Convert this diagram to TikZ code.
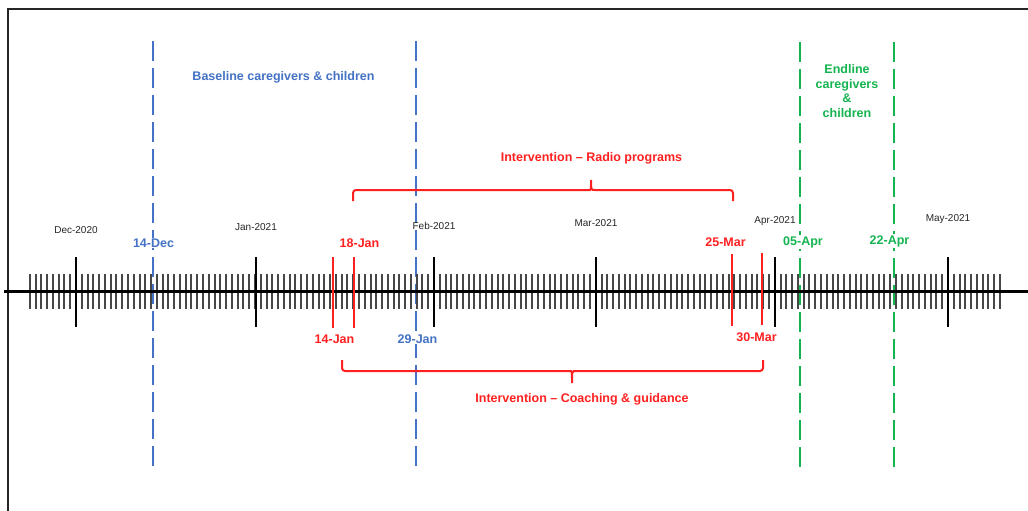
\documentclass[tikz,border=0pt]{standalone}
\usepackage{fontspec}
\setmainfont{Liberation Sans}
\definecolor{cblue}{RGB}{68,114,196}
\definecolor{cred}{RGB}{255,32,32}
\definecolor{cgreen}{RGB}{20,180,80}
\tikzset{
  daytick/.style={line width=1.8pt, black!72},
  monthtick/.style={line width=2pt, black},
  monthlbl/.style={font=\fontsize{10}{12}\selectfont, text=black!85, inner sep=1pt},
  datelbl/.style={font=\fontsize{12.5}{14.7}\selectfont\bfseries, fill=white, inner sep=1pt},
  phaselbl/.style={font=\fontsize{12.5}{14.7}\selectfont\bfseries, inner sep=1pt, align=center},
  redline/.style={line width=2pt, cred},
  bluedash/.style={line width=2pt, cblue, dash pattern=on 20pt off 7pt},
  greendash/.style={line width=2pt, cgreen, dash pattern=on 20pt off 7pt},
  bracestyle/.style={line width=2pt, cred, rounded corners=3pt}
}
\begin{document}
\begin{tikzpicture}[x=1pt,y=-1pt]
\useasboundingbox (0,0) rectangle (1028,511);
\fill[white] (0,0) rectangle (1028,511);
% frame
\coordinate (fbl) at (8,511);
\coordinate (ftl) at (8,9);
\coordinate (ftr) at (1028,9);
\draw[line width=2pt, black!85] (fbl) -- (ftl) -- (ftr);
% dashed survey lines
\coordinate (b1t) at (153,41); \coordinate (b1b) at (153,472);
\coordinate (b2t) at (416,41); \coordinate (b2b) at (416,472);
\coordinate (g1t) at (800,42); \coordinate (g1b) at (800,473);
\coordinate (g2t) at (894,42); \coordinate (g2b) at (894,473);
\draw[bluedash] (b1t) -- (b1b);
\draw[bluedash] (b2t) -- (b2b);
\draw[greendash] (g1t) -- (g1b);
\draw[greendash] (g2t) -- (g2b);
% day ticks
\foreach \d in {-8,...,160}{
  \pgfmathsetmacro{\tx}{round(76+5.775*\d)}
  \draw[daytick] (\tx,274) -- (\tx,309);
}
% axis
\coordinate (axl) at (4,291);
\coordinate (axr) at (1028,291);
\draw[line width=3pt, black] (axl) -- (axr);
% month ticks and labels
\foreach \n/\x/\ly/\txt in {m1/76/230/Dec-2020, m2/256/227/Jan-2021, m3/434/226/Feb-2021, m4/596/223/Mar-2021, m5/775/221/Apr-2021, m6/948/219/May-2021}{
  \draw[monthtick] (\x,257) -- (\x,327);
  \node[monthlbl] (\n) at (\x,\ly) {\txt};
}
% red intervention lines
\draw[redline] (333,257) -- (333,328);
\draw[redline] (354,257) -- (354,328);
\draw[redline] (732,254) -- (732,326);
\draw[redline] (762,253) -- (762,325);
% date labels
\node[datelbl, text=cblue] (d14dec) at (153.5,243) {14-Dec};
\node[datelbl, text=cred] (d18jan) at (359.5,243) {18-Jan};
\node[datelbl, text=cred] (d25mar) at (725.5,242) {25-Mar};
\node[datelbl, text=cgreen] (d05apr) at (803,242) {05-Apr};
\node[datelbl, text=cgreen] (d22apr) at (889.5,241) {22-Apr};
\node[datelbl, text=cred] (d14jan) at (334.5,339) {14-Jan};
\node[datelbl, text=cblue] (d29jan) at (417.5,339) {29-Jan};
\node[datelbl, text=cred] (d30mar) at (756.5,337) {30-Mar};
% braces
\coordinate (rb1) at (353,201);
\coordinate (rb2) at (733,201);
\draw[bracestyle] (rb1) -- (353,190) -- (587,190) [sharp corners] .. controls (591,190) .. (591,180) .. controls (591,190) .. (595,190) [rounded corners=3pt] -- (733,190) -- (rb2);
\coordinate (cb1) at (342,360);
\coordinate (cb2) at (763,360);
\draw[bracestyle] (cb1) -- (342,371) -- (568,371) [sharp corners] .. controls (572,371) .. (572,383) .. controls (572,371) .. (576,371) [rounded corners=3pt] -- (763,371) -- (cb2);
% phase labels
\node[phaselbl, text=cblue] (baseline) at (283.5,77) {Baseline caregivers \& children};
\node[phaselbl, text=cgreen] (endline) at (847,91) {Endline\\caregivers\\\&\\children};
\node[phaselbl, text=cred] (radio) at (591.5,158) {Intervention -- Radio programs};
\node[phaselbl, text=cred] (coach) at (582,399) {Intervention -- Coaching \& guidance};
\end{tikzpicture}
\end{document}
